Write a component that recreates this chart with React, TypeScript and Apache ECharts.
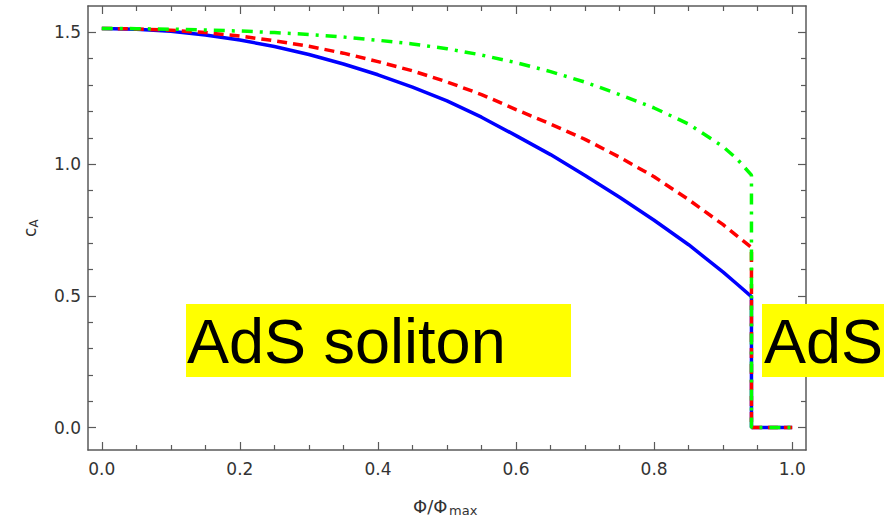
import React, { useEffect, useRef } from "react";
import * as echarts from "echarts";

// Φ/Φmax sample positions (the drop to zero happens at ≈0.941)
const phi = [0, 0.05, 0.1, 0.15, 0.2, 0.25, 0.3, 0.35, 0.4, 0.45, 0.5, 0.55, 0.6, 0.65, 0.7, 0.75, 0.8, 0.85, 0.9, 0.92, 0.941, 0.941, 1.0];
// c_A values
const cBlue = [1.515, 1.512, 1.504, 1.49, 1.471, 1.446, 1.416, 1.38, 1.339, 1.292, 1.24, 1.178, 1.108, 1.036, 0.957, 0.874, 0.787, 0.694, 0.59, 0.545, 0.497, 0, 0];
const cRed = [1.515, 1.513, 1.508, 1.499, 1.486, 1.468, 1.447, 1.421, 1.389, 1.354, 1.312, 1.264, 1.207, 1.152, 1.094, 1.026, 0.952, 0.865, 0.77, 0.728, 0.684, 0, 0];
const cGreen = [1.515, 1.514, 1.512, 1.509, 1.505, 1.499, 1.492, 1.482, 1.47, 1.456, 1.438, 1.414, 1.385, 1.351, 1.311, 1.264, 1.213, 1.152, 1.066, 1.02, 0.958, 0, 0];

// ticks
const xMajorTicks = [0, 0.2, 0.4, 0.6, 0.8, 1.0];
const xMinorTicks = [0.05, 0.1, 0.15, 0.25, 0.3, 0.35, 0.45, 0.5, 0.55, 0.65, 0.7, 0.75, 0.85, 0.9, 0.95];
const yMajorTicks = [0, 0.5, 1.0, 1.5];
const yMinorTicks = [0.1, 0.2, 0.3, 0.4, 0.6, 0.7, 0.8, 0.9, 1.1, 1.2, 1.3, 1.4];

const AXIS_COLOR = "#5a5a5a";
const LABEL_COLOR = "#333";
const X_MIN = -0.02, X_MAX = 1.02, Y_MIN = -0.085, Y_MAX = 1.6;

function makeAxis(kind: "x" | "y", position: string, ticks: number[], len: number, showLine: boolean, showLabel: boolean) {
  return {
    type: "value",
    position,
    min: kind === "x" ? X_MIN : Y_MIN,
    max: kind === "x" ? X_MAX : Y_MAX,
    axisLine: { show: showLine, onZero: false, lineStyle: { color: AXIS_COLOR, width: 1.5 } },
    axisTick: { show: true, inside: true, length: len, customValues: ticks, lineStyle: { color: AXIS_COLOR, width: 1.2 } },
    axisLabel: showLabel
      ? {
          show: true,
          customValues: ticks,
          formatter: (v: number) => v.toFixed(1),
          fontFamily: "DejaVu Sans",
          fontSize: 17,
          color: LABEL_COLOR,
          margin: kind === "x" ? 10 : 7,
        }
      : { show: false },
    splitLine: { show: false },
  };
}

export default function App() {
  const ref = useRef<HTMLDivElement>(null);
  useEffect(() => {
    if (!ref.current) return;
    const chart = echarts.init(ref.current, null, { renderer: "svg" });
    const line = (vals: number[], color: string, type: any) => ({
      type: "line",
      xAxisIndex: 0,
      yAxisIndex: 0,
      data: phi.map((x, i) => [x, vals[i]]),
      showSymbol: false,
      symbol: "none",
      lineStyle: { color, width: 3.5, type, cap: "butt" },
    });
    chart.setOption({
      animation: false,
      backgroundColor: "#ffffff",
      grid: { left: 88, right: 78, top: 6, bottom: 71 },
      xAxis: [
        makeAxis("x", "bottom", xMajorTicks, 8, true, true),
        makeAxis("x", "bottom", xMinorTicks, 5, false, false),
        makeAxis("x", "top", xMajorTicks, 8, true, false),
        makeAxis("x", "top", xMinorTicks, 5, false, false),
      ],
      yAxis: [
        makeAxis("y", "left", yMajorTicks, 8, true, true),
        makeAxis("y", "left", yMinorTicks, 5, false, false),
        makeAxis("y", "right", yMajorTicks, 8, true, false),
        makeAxis("y", "right", yMinorTicks, 5, false, false),
      ],
      series: [
        line(cBlue, "#0000ff", "solid"),
        line(cRed, "#ff0000", [10, 6]),
        line(cGreen, "#00ff00", [11, 7, 3, 7]),
      ],
      graphic: [
        { type: "rect", z: 100, shape: { x: 186, y: 304, width: 385, height: 73 }, style: { fill: "#ffff00" } },
        {
          type: "text", z: 101, x: 187, y: 340.5,
          style: { text: "AdS soliton", fontSize: 63, fontFamily: "Liberation Sans", fill: "#000", align: "left", verticalAlign: "middle" },
        },
        { type: "rect", z: 100, shape: { x: 762, y: 304, width: 122, height: 73 }, style: { fill: "#ffff00" } },
        {
          type: "text", z: 101, x: 764, y: 340.5,
          style: { text: "AdS", fontSize: 63, fontFamily: "Liberation Sans", fill: "#000", align: "left", verticalAlign: "middle" },
        },
        // x axis name Φ/Φmax
        {
          type: "text", z: 101, x: 413, y: 506,
          style: { text: "Φ/Φ", fontSize: 18, fontFamily: "DejaVu Sans", fill: LABEL_COLOR, align: "left", verticalAlign: "middle" },
        },
        {
          type: "text", z: 101, x: 449, y: 510.5,
          style: { text: "max", fontSize: 13, fontFamily: "DejaVu Sans", fill: LABEL_COLOR, align: "left", verticalAlign: "middle" },
        },
        // y axis name c_A (rotated)
        {
          type: "group", x: 30, y: 228, rotation: Math.PI / 2,
          children: [
            {
              type: "text", z: 101, x: -9, y: 0,
              style: { text: "c", fontSize: 17, fontFamily: "DejaVu Sans", fill: LABEL_COLOR, align: "left", verticalAlign: "middle" },
            },
            {
              type: "text", z: 101, x: 0.5, y: 4,
              style: { text: "A", fontSize: 12, fontFamily: "DejaVu Sans", fill: LABEL_COLOR, align: "left", verticalAlign: "middle" },
            },
          ],
        },
      ],
    });
    return () => chart.dispose();
  }, []);
  return <div ref={ref} style={{ position: "absolute", left: 0, top: 0, width: 884, height: 521 }} />;
}
